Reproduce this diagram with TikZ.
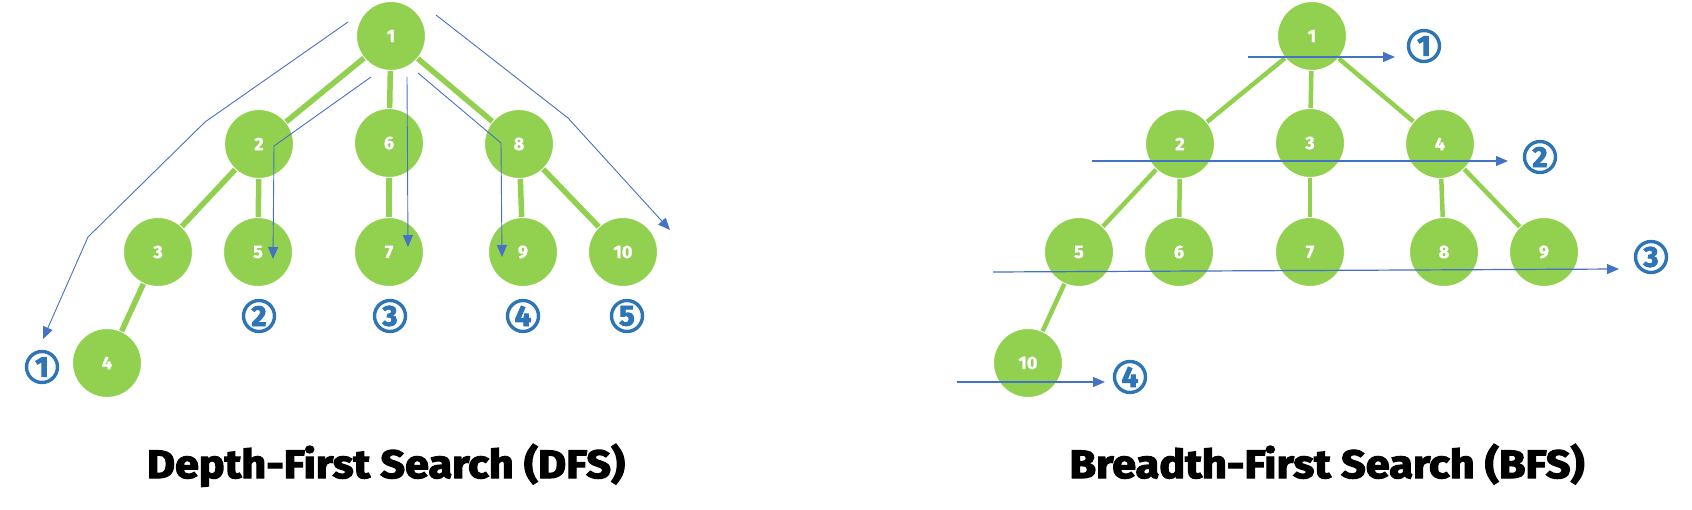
\documentclass[tikz,border=0pt]{standalone}
\usepackage{graphicx}
\usepackage{fontspec}
\setmainfont{Fira Sans}
\newfontfamily\heavyfont{Fira Sans Bold}[FakeBold=1.5]
\newfontfamily\blackfont{Fira Sans Bold}[FakeBold=3]
\usetikzlibrary{arrows.meta}
\definecolor{leaf}{HTML}{92D050}
\definecolor{route}{HTML}{4472C4}
\definecolor{badge}{HTML}{2E75B6}

\begin{document}
\begin{tikzpicture}[x=1pt,y=-1pt,
  vertex/.style={circle, fill=leaf, draw=white, line width=1pt, minimum size=69pt, inner sep=0pt, text=white, font=\heavyfont\fontsize{18}{18}\selectfont},
  edge/.style={leaf, line width=5.5pt},
  walk/.style={route, line width=0.9pt, -{Triangle[length=12pt,width=10pt]}},
  order/.style={circle, draw=badge, line width=3.4pt, minimum size=31pt, inner sep=0pt, text=badge, font=\blackfont\fontsize{29}{29}\selectfont},
  heading/.style={anchor=base, font=\blackfont}]
\useasboundingbox (0,0) rectangle (1692,510); % page

% DFS tree
\foreach \n/\x/\y in {1/391/36, 2/259/144, 6/389/143, 8/519/144, 3/158/252, 5/258/252, 7/389/252, 9/523/252, 10/623/252, 4/107/363}
  \node[vertex] (d\n) at (\x,\y) {\n};
\foreach \a/\b in {1/2, 1/6, 1/8, 2/3, 2/5, 3/4, 6/7, 8/9, 8/10}
  \draw[edge] (d\a) -- (d\b);

% DFS walks
\coordinate (da0) at (348,22); \coordinate (da1) at (205,122); \coordinate (da2) at (88,237); \coordinate (da3) at (43,339);
\coordinate (db0) at (371,77); \coordinate (db1) at (274,146); \coordinate (db2) at (273,259);
\coordinate (dc0) at (407,77); \coordinate (dc1) at (408,247);
\coordinate (dd0) at (418,73); \coordinate (dd1) at (501,143); \coordinate (dd2) at (502,257);
\coordinate (de0) at (436,15); \coordinate (de1) at (568,118); \coordinate (de2) at (670,230);
\draw[walk] (da0) -- (da1) -- (da2) -- (da3); % to 4
\draw[walk] (db0) -- (db1) -- (db2); % to 5
\draw[walk] (dc0) -- (dc1); % to 7
\draw[walk] (dd0) -- (dd1) -- (dd2); % to 9
\draw[walk] (de0) -- (de1) -- (de2); % to 10

% DFS order
\foreach \n/\x/\y in {1/42/367, 2/259/316, 3/390/316, 4/523/316, 5/627/316}
  \node[order] (do\n) at (\x,\y) {\n};

% BFS tree
\foreach \n/\x/\y in {1/1312/36, 2/1180/144, 3/1310/143, 4/1440/144, 5/1079/252, 6/1179/252, 7/1310/252, 8/1444/252, 9/1544/252, 10/1028/363}
  \node[vertex] (b\n) at (\x,\y) {\n};
\foreach \a/\b in {1/2, 1/3, 1/4, 2/5, 2/6, 3/7, 4/8, 4/9, 5/10}
  \draw[edge, line width=4.5pt] (b\a) -- (b\b);

% BFS levels
\coordinate (ba0) at (1248,57); \coordinate (ba1) at (1395,57);
\coordinate (bb0) at (1092,161); \coordinate (bb1) at (1508,161);
\coordinate (bc0) at (993,272); \coordinate (bc1) at (1619,269);
\coordinate (bd0) at (957,382); \coordinate (bd1) at (1105,382);
\foreach \l in {a,b,c,d}
  \draw[walk, line width=1.2pt] (b\l0) -- (b\l1);
\foreach \n/\x/\y in {1/1424/46, 2/1540/157, 3/1651/257, 4/1130/377}
  \node[order] (bo\n) at (\x,\y) {\n};

% titles
\node[heading] (dfs) at (386,478) {\resizebox{478pt}{34pt}{Depth-First Search (DFS)}};
\node[heading] (bfs) at (1327,478) {\resizebox{515pt}{34pt}{Breadth-First Search (BFS)}};
\end{tikzpicture}
\end{document}
